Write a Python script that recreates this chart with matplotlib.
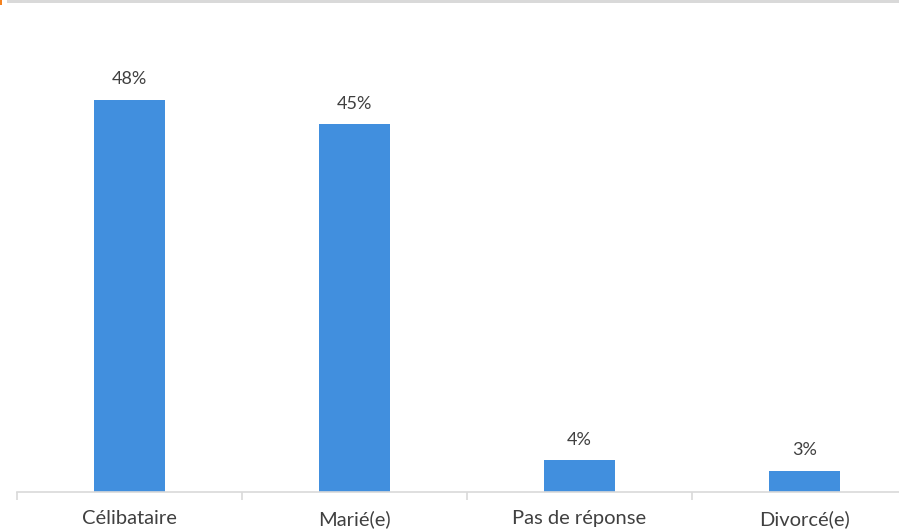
import matplotlib.pyplot as plt
from matplotlib.patches import Rectangle

categories = ["Célibataire", "Marié(e)", "Pas de réponse", "Divorcé(e)"]
values = [47.9, 44.9, 3.9, 2.6]
labels = ["48%", "45%", "4%", "3%"]

plt.rcParams["font.family"] = ["Lato", "DejaVu Sans"]
text_color = "#404040"

W, H = 899, 529
fig = plt.figure(figsize=(W / 100, H / 100), dpi=100)

# top decoration: gray strip and small orange mark
fig.patches.append(Rectangle((7 / W, 1 - 3 / H), 1, 3 / H, transform=fig.transFigure,
                             color="#d9d9d9", lw=0))
fig.patches.append(Rectangle((0, 1 - 5 / H), 2 / W, 5 / H, transform=fig.transFigure,
                             color="#f5821f", lw=0))

ax = fig.add_axes([17 / W, (H - 492) / H, 900 / W, 489 / H])
x = range(len(categories))
bars = ax.bar(x, values, width=0.315, color="#418fde", zorder=2)
for b, lab in zip(bars, labels):
    ax.annotate(lab, (b.get_x() + b.get_width() / 2, b.get_height()),
                xytext=(0, 9), textcoords="offset points", ha="center", va="bottom",
                fontsize=13, color=text_color)

ax.set_xlim(-0.5, len(categories) - 0.5)
ax.set_ylim(0, 59.7)
ax.set_xticks(list(x))
ax.set_xticklabels(categories, fontsize=14.5, color=text_color)
ax.set_xticks([i - 0.5 for i in range(len(categories) + 1)], minor=True)
ax.tick_params(axis="x", which="major", length=0, pad=13)
ax.tick_params(axis="x", which="minor", length=6, color="#d9d9d9", width=1.2)
ax.set_yticks([])
for s in ["top", "right", "left"]:
    ax.spines[s].set_visible(False)
ax.spines["bottom"].set_color("#d9d9d9")
ax.spines["bottom"].set_linewidth(1.2)

fig.savefig("out.png", dpi=100)
